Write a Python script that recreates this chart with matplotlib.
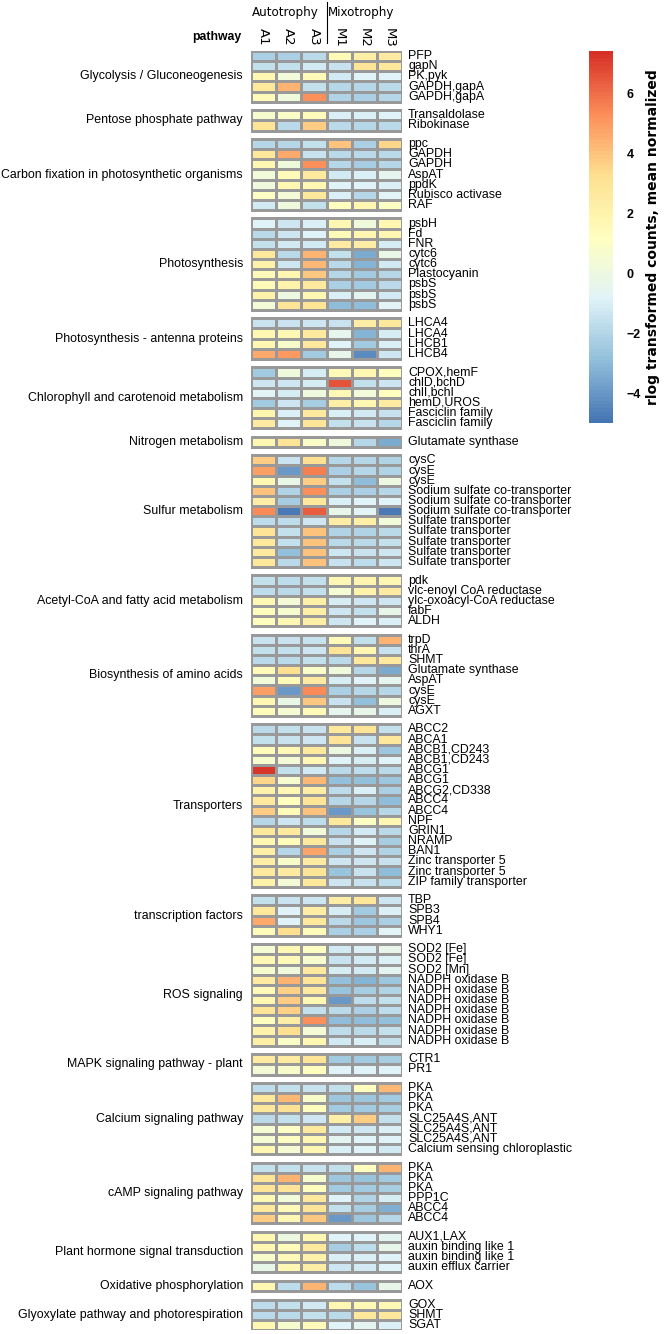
import numpy as np
import matplotlib
matplotlib.use("Agg")
import matplotlib.pyplot as plt
from matplotlib.colors import LinearSegmentedColormap, Normalize
from matplotlib.colorbar import ColorbarBase

samples = ["A1", "A2", "A3", "M1", "M2", "M3"]
groups = ["Autotrophy", "Mixotrophy"]

glyco_genes = ["PFP", "gapN", "PK,pyk", "GAPDH,gapA", "GAPDH,gapA"]
glyco = [[-2.2, -2.2, -1.8, 1.5, 2.3, 2.5],
         [-1.6, -1.6, -1.2, -1.5, 3.0, 2.7],
         [1.8, 0.3, 1.5, -1.2, -0.8, -0.9],
         [2.8, 4.3, -1.6, -2.0, -2.0, -1.8],
         [1.5, 0.2, 5.2, -2.1, -2.2, -2.0]]

pentose_genes = ["Transaldolase", "Ribokinase"]
pentose = [[0.6, 0.9, 1.4, -1.0, -1.0, -0.9],
           [3.0, -1.8, 3.8, -1.8, -2.0, -1.8]]

carbon_genes = ["ppc", "GAPDH", "GAPDH", "AspAT", "ppdK", "Rubisco activase", "RAF"]
carbon = [[-2.0, -2.0, -1.6, 4.0, -2.2, 3.5],
          [2.8, 4.6, -1.5, -1.8, -1.9, -1.8],
          [1.8, 0.2, 5.2, -2.0, -2.3, -2.0],
          [0.3, 1.5, 2.6, -1.2, -1.0, -0.5],
          [0.2, 1.7, 1.8, -0.8, -0.8, -1.0],
          [1.0, 0.4, 2.8, -1.0, -2.0, -0.7],
          [-1.2, 0.2, -1.6, 1.2, 1.8, 1.0]]

photo_genes = ["psbH", "Fd", "FNR", "cytc6", "cytc6", "Plastocyanin", "psbS", "psbS", "psbS"]
photo = [[-0.8, -1.3, -1.0, 1.7, 0.2, 1.8],
         [-1.9, -1.3, -0.8, 1.5, 1.8, 1.7],
         [-1.6, -1.2, -1.2, 2.5, 2.4, -1.1],
         [2.8, -1.8, 4.3, -1.6, -3.5, -0.2],
         [2.0, -1.3, 4.2, -1.8, -3.2, -1.2],
         [1.5, 1.8, 3.9, -2.0, -2.4, -2.0],
         [1.5, 2.0, 2.6, -2.2, -2.4, -1.8],
         [2.0, 0.0, 1.8, -1.0, -0.6, -1.2],
         [0.4, 3.0, 3.0, -3.0, -3.0, -0.7]]

antenna_genes = ["LHCA4", "LHCA4", "LHCB1", "LHCB4"]
antenna = [[-1.5, -1.5, -1.4, -1.5, 2.4, 2.8],
           [1.8, 1.6, 2.6, -0.5, -3.2, -1.1],
           [1.7, 0.8, 2.6, -0.9, -2.5, -1.0],
           [4.6, 5.0, -2.5, -0.3, -4.3, -1.4]]

chloro_genes = ["CPOX,hemF", "chlD,bchD", "chlI,bchI", "hemD,UROS",
                "Fasciclin family", "Fasciclin family"]
chloro = [[-2.5, 0.2, -1.1, 1.5, 1.8, 1.2],
          [-1.3, -1.4, -1.1, 6.6, -1.6, -1.3],
          [-0.7, -1.1, 0.2, 1.6, 0.3, 1.2],
          [-2.5, -1.3, -2.3, 2.2, 1.8, 2.5],
          [1.9, -1.0, 2.6, -1.0, -1.2, -1.5],
          [2.5, -0.9, 2.9, -1.6, -1.5, -2.0]]

nitro_genes = ["Glutamate synthase"]
nitro = [[1.7, 3.0, 0.9, 0.2, -2.0, -3.5]]

sulfur_genes = ["cysC", "cysE", "cysE", "Sodium sulfate co-transporter",
                "Sodium sulfate co-transporter", "Sodium sulfate co-transporter",
                "Sulfate transporter", "Sulfate transporter", "Sulfate transporter",
                "Sulfate transporter", "Sulfate transporter"]
sulfur = [[3.8, -1.5, 3.2, -2.0, -2.0, -2.1],
          [4.8, -4.0, 5.6, -2.2, -2.0, -2.1],
          [1.8, -0.2, 3.8, -1.6, -2.9, 0.0],
          [4.0, -2.1, 5.2, -2.2, -2.2, -2.0],
          [2.4, -2.3, 2.8, -1.0, -0.8, -0.9],
          [5.3, -4.8, 6.4, -0.3, -0.7, -4.8],
          [-1.7, -1.7, -1.4, 2.4, 2.3, 0.3],
          [3.0, -1.6, 4.0, -2.1, -2.1, -1.9],
          [2.8, -1.6, 4.0, -1.8, -1.9, -1.6],
          [2.6, -2.8, 4.0, -1.4, -1.5, -1.3],
          [2.8, -1.8, 4.0, -1.5, -1.7, -1.4]]

acetyl_genes = ["pdk", "vlc-enoyl CoA reductase", "ylc-oxoacyl-CoA reductase", "fabF", "ALDH"]
acetyl = [[-1.6, -1.7, -1.6, 1.6, 1.9, 1.8],
          [-1.7, -1.8, -1.6, 0.5, 2.0, 2.5],
          [1.6, 0.4, 2.2, -1.1, -1.3, -1.3],
          [1.2, 0.7, 2.3, -1.4, -1.6, -0.3],
          [1.3, 1.6, 2.2, -1.3, -0.9, -1.0]]

amino_genes = ["trpD", "thrA", "SHMT", "Glutamate synthase", "AspAT", "cysE", "cysE", "AGXT"]
amino = [[-1.5, -1.5, -1.5, 1.5, -1.6, 4.3],
         [-1.6, -1.6, -1.4, 3.0, 1.8, -1.5],
         [-1.8, -1.8, -1.6, -1.9, 2.8, 2.6],
         [1.5, 3.2, 0.9, 0.2, -2.0, -3.4],
         [0.3, 1.5, 2.5, -1.1, -0.9, -0.5],
         [4.8, -3.9, 5.4, -2.2, -2.0, -2.0],
         [1.8, -0.2, 3.9, -1.5, -2.8, 0.0],
         [1.4, 0.5, 1.5, -0.5, -0.4, -1.0]]

transp_genes = ["ABCC2", "ABCA1", "ABCB1,CD243", "ABCB1,CD243", "ABCG1", "ABCG1",
                "ABCG2,CD338", "ABCC4", "ABCC4", "NPF", "GRIN1", "NRAMP", "BAN1",
                "Zinc transporter 5", "Zinc transporter 5", "ZIP family transporter"]
transp = [[-1.8, -1.6, -1.5, 2.8, 3.0, -1.6],
          [-1.6, -1.5, -1.3, 3.0, -1.5, 2.8],
          [1.4, 1.6, 2.7, 0.0, -1.0, -2.6],
          [0.7, 0.4, 1.8, -0.9, -1.1, -0.9],
          [7.2, -1.6, -1.2, -1.9, -1.7, -1.8],
          [3.5, 0.6, 4.2, -2.8, -2.8, -2.6],
          [2.0, 1.8, 2.4, -1.7, -1.0, -2.2],
          [2.6, 1.2, 3.0, -2.0, -2.0, -3.0],
          [3.8, 1.5, 4.0, -4.0, -2.7, -2.0],
          [-2.0, -1.3, -1.7, 2.8, 1.0, 1.8],
          [2.7, 2.6, 0.3, -2.0, -1.2, -1.8],
          [1.8, 1.4, 2.8, -1.5, -0.8, -2.3],
          [2.3, -2.0, 4.7, -2.2, -1.4, -2.1],
          [2.4, 0.8, 2.5, -1.3, -1.4, -1.5],
          [2.6, 2.5, 3.0, -2.7, -1.5, -2.9],
          [2.0, 0.4, 2.8, -1.4, -1.5, -1.7]]

tf_genes = ["TBP", "SPB3", "SPB4", "WHY1"]
tf = [[-1.6, -1.5, -1.3, 2.4, 2.8, -1.4],
      [2.8, -0.8, 2.4, -1.1, -2.4, -1.0],
      [4.6, -0.9, 2.8, -1.9, -2.6, -2.2],
      [1.4, 3.2, 1.4, -2.2, -2.2, -0.7]]

ros_genes = ["SOD2 [Fe]", "SOD2 [Fe]", "SOD2 [Mn]"] + ["NADPH oxidase B"] * 7
ros = [[0.5, 1.6, 1.0, -1.2, -1.0, -0.4],
       [1.6, 1.5, 0.6, -1.5, -1.2, -1.0],
       [0.6, 0.2, 2.6, -1.1, -1.2, -0.6],
       [2.5, 4.3, 3.0, -2.8, -3.2, -2.6],
       [1.5, 3.6, 2.6, -2.7, -2.3, -2.1],
       [1.8, 3.8, 1.8, -4.0, -1.7, -1.6],
       [3.0, 3.6, -1.6, -1.9, -2.2, -1.7],
       [1.2, 2.4, 5.2, -2.9, -3.0, -2.8],
       [2.0, 3.2, 0.4, -1.7, -1.8, -1.6],
       [2.3, 0.9, 1.7, -1.2, -1.0, -1.6]]

mapk_genes = ["CTR1", "PR1"]
mapk = [[2.5, 2.5, 3.0, -2.4, -2.4, -2.3],
        [0.4, 0.8, 1.2, -0.8, -0.9, -0.8]]

calcium_genes = ["PKA", "PKA", "PKA", "SLC25A4S,ANT", "SLC25A4S,ANT", "SLC25A4S,ANT",
                 "Calcium sensing chloroplastic"]
calcium = [[-1.7, -1.6, -1.5, -1.6, 1.3, 4.2],
           [2.8, 4.2, 0.8, -2.6, -2.6, -2.4],
           [2.8, 3.1, 1.3, -2.4, -2.5, -2.3],
           [-1.8, -1.6, -1.3, 2.2, 3.8, -1.6],
           [0.5, 1.0, 2.6, -1.2, -1.3, -1.0],
           [0.5, 1.0, 1.8, -0.6, -0.9, -0.8],
           [1.7, 0.5, 1.8, -1.0, -0.9, -1.2]]

camp_genes = ["PKA", "PKA", "PKA", "PPP1C", "ABCC4", "ABCC4"]
camp = [[-1.6, -1.6, -1.5, -1.6, 1.2, 4.3],
        [3.0, 4.3, 0.6, -2.6, -2.7, -2.4],
        [3.0, 3.0, 1.3, -2.4, -2.5, -2.3],
        [1.6, 0.3, 2.7, -0.9, -2.1, -1.1],
        [2.8, 1.5, 3.0, -1.6, -2.3, -3.3],
        [3.8, 1.6, 3.9, -4.0, -2.6, -2.0]]

hormone_genes = ["AUX1,LAX", "auxin binding like 1", "auxin binding like 1", "auxin efflux carrier"]
hormone = [[1.7, 0.0, 1.8, -0.9, -0.9, -0.6],
           [1.7, 1.4, 2.6, -2.3, -1.7, -0.4],
           [0.8, 1.5, 2.0, -1.0, -1.0, -0.9],
           [-0.4, 1.6, 2.4, -1.3, -1.2, -0.9]]

oxphos_genes = ["AOX"]
oxphos = [[1.8, -1.7, 4.4, -1.7, -2.7, -0.3]]

glyox_genes = ["GOX", "SHMT", "SGAT"]
glyox = [[-1.7, -1.6, -1.2, 1.8, 1.6, 1.6],
         [-1.8, -1.8, -1.6, -1.9, 2.8, 2.8],
         [1.8, 0.6, 1.5, -0.8, -0.6, -1.0]]

blocks = [
    ("Glycolysis / Gluconeogenesis", glyco_genes, glyco),
    ("Pentose phosphate pathway", pentose_genes, pentose),
    ("Carbon fixation in photosynthetic organisms", carbon_genes, carbon),
    ("Photosynthesis", photo_genes, photo),
    ("Photosynthesis - antenna proteins", antenna_genes, antenna),
    ("Chlorophyll and carotenoid metabolism", chloro_genes, chloro),
    ("Nitrogen metabolism", nitro_genes, nitro),
    ("Sulfur metabolism", sulfur_genes, sulfur),
    ("Acetyl-CoA and fatty acid metabolism", acetyl_genes, acetyl),
    ("Biosynthesis of amino acids", amino_genes, amino),
    ("Transporters", transp_genes, transp),
    ("transcription factors", tf_genes, tf),
    ("ROS signaling", ros_genes, ros),
    ("MAPK signaling pathway - plant", mapk_genes, mapk),
    ("Calcium signaling pathway", calcium_genes, calcium),
    ("cAMP signaling pathway", camp_genes, camp),
    ("Plant hormone signal transduction", hormone_genes, hormone),
    ("Oxidative phosphorylation", oxphos_genes, oxphos),
    ("Glyoxylate pathway and photorespiration", glyox_genes, glyox),
]

# pheatmap default palette: rev(RdYlBu, 7)
cols = ["#4575B4", "#91BFDB", "#E0F3F8", "#FFFFBF", "#FEE090", "#FC8D59", "#D73027"]
cmap = LinearSegmentedColormap.from_list("rdylbu7", cols, N=100)
norm = Normalize(vmin=-5.0, vmax=7.4)

W, H = 666, 1334
fig = plt.figure(figsize=(W / 100, H / 100), dpi=100)

gap = 0.834
nrows = sum(len(b[1]) for b in blocks)
total = nrows + gap * (len(blocks) - 1)

ax = fig.add_axes([251 / W, 1 - 1330 / H, 151 / W, 1279 / H])
ax.set_xlim(0, 6)
ax.set_ylim(total, 0)
ax.axis("off")

lab_font = "Liberation Sans"
y0 = 0
for name, genes, vals in blocks:
    n = len(genes)
    ye = y0 + np.arange(n + 1)
    ax.pcolormesh(np.arange(7), ye, np.array(vals), cmap=cmap, norm=norm,
                  edgecolor="#999999", linewidth=1.0)
    for i, g in enumerate(genes):
        ax.text(6.24, y0 + i + 0.5, g, ha="left", va="center", fontsize=8.9,
                family=lab_font, clip_on=False)
    ax.text(-0.32, y0 + n / 2, name, ha="right", va="center", fontsize=8.9,
            family=lab_font, clip_on=False)
    y0 += n + gap

# column header
for j, s in enumerate(samples):
    ax.text(j + 0.5, -2.25, s, rotation=270, ha="center", va="top",
            fontsize=9.5, family="DejaVu Sans", clip_on=False)
ax.text(0.03, -3.75, groups[0], ha="left", va="center", fontsize=8.6,
        family="DejaVu Sans", clip_on=False)
ax.text(3.07, -3.75, groups[1], ha="left", va="center", fontsize=8.6,
        family="DejaVu Sans", clip_on=False)
ax.plot([3, 3], [-4.85, -0.8], color="black", linewidth=0.8, clip_on=False)
ax.text(-0.38, -1.4, "pathway", ha="right", va="center", fontsize=8.8,
        family=lab_font, fontweight="bold", clip_on=False)

# colour key
cax = fig.add_axes([589 / W, 1 - 423 / H, 24 / W, 372 / H])
cb = ColorbarBase(cax, cmap=cmap, norm=norm, ticks=[-4, -2, 0, 2, 4, 6])
cb.outline.set_visible(False)
cax.tick_params(length=0, pad=10, labelsize=9)
for t in cax.get_yticklabels():
    t.set_fontweight("bold")
    t.set_family(lab_font)
fig.text(653 / W, 1 - 237 / H, "rlog transformed counts, mean normalized",
         rotation=90, ha="center", va="center", fontsize=10, fontweight="bold",
         family="DejaVu Sans")

fig.savefig("out.png", dpi=100)
